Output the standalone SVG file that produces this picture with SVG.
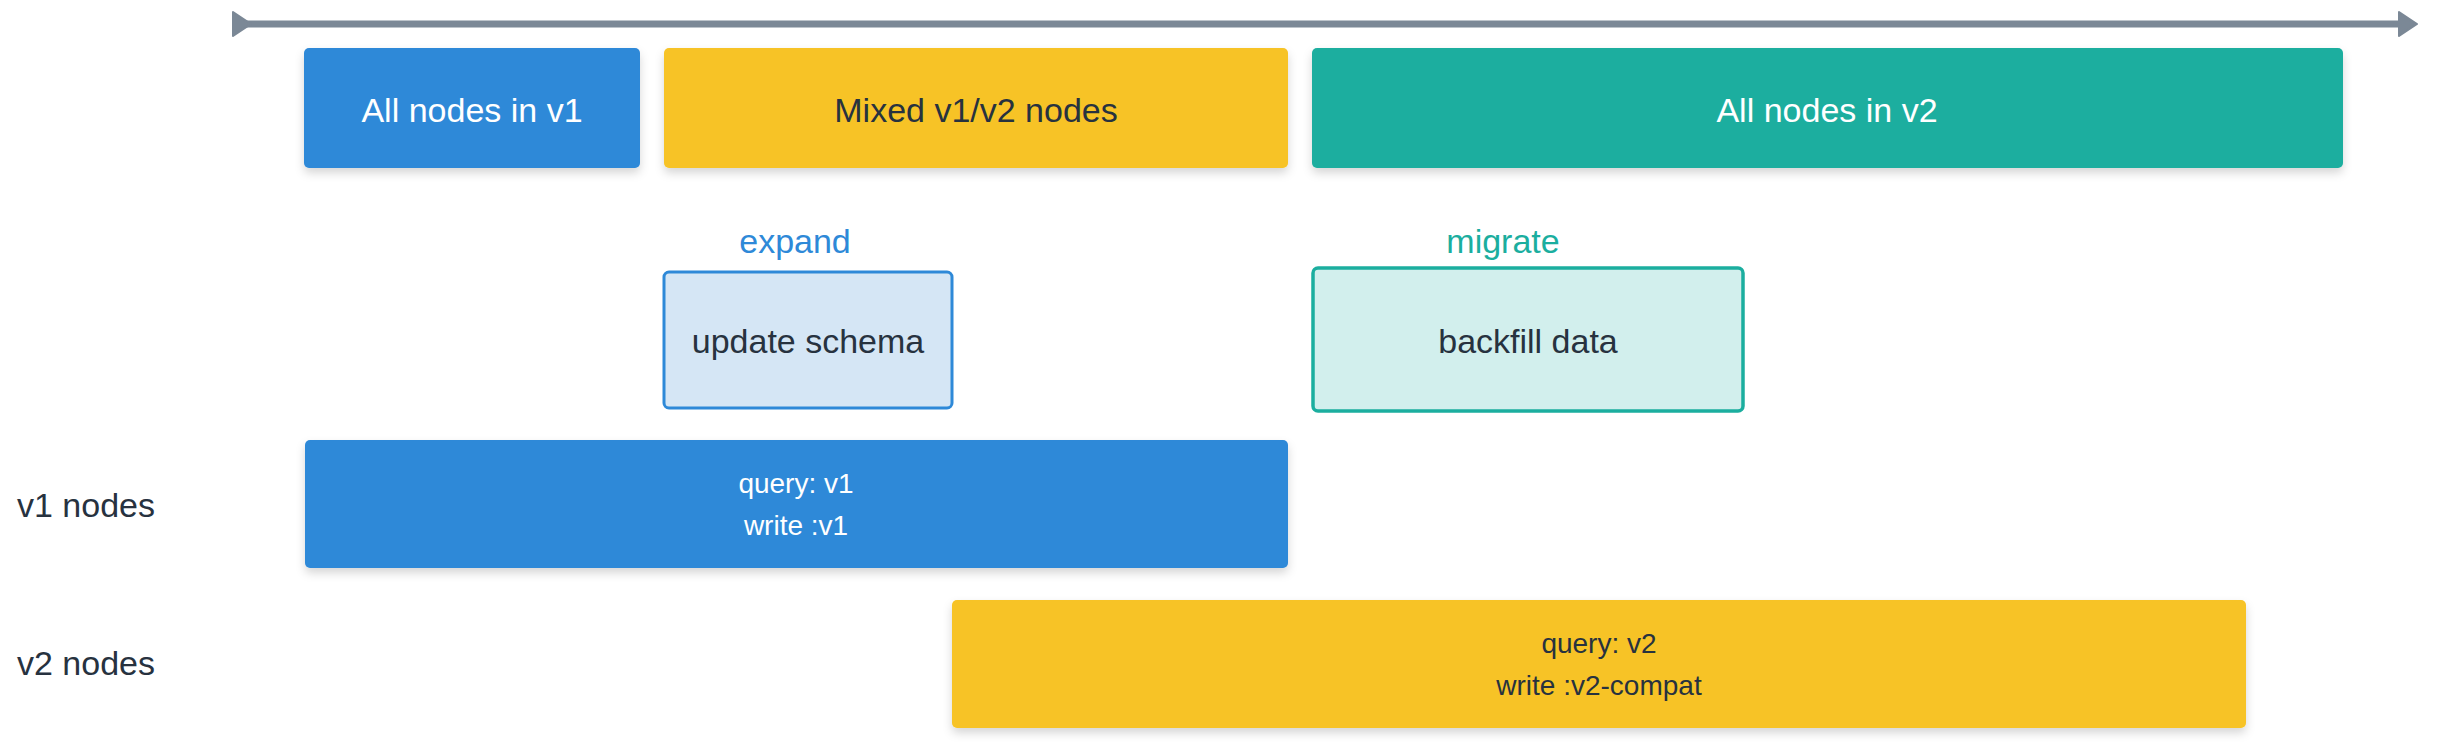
<svg xmlns="http://www.w3.org/2000/svg" width="2440" height="744" viewBox="0 0 2440 744">
<defs>
<marker id="arrowStart" markerUnits="userSpaceOnUse" viewBox="0 0 20 26" markerWidth="20" markerHeight="26" refX="0" refY="13" orient="auto">
<path d="M1,1 L19,13 L1,25 Z" fill="#7b8896" stroke="#7b8896" stroke-width="2" stroke-linejoin="round"/>
</marker>
<marker id="arrowEnd" markerUnits="userSpaceOnUse" viewBox="0 0 20 26" markerWidth="20" markerHeight="26" refX="2" refY="13" orient="auto">
<path d="M1,1 L19,13 L1,25 Z" fill="#7b8896" stroke="#7b8896" stroke-width="2" stroke-linejoin="round"/>
</marker>
<filter id="shadow" x="-5%" y="-20%" width="110%" height="150%">
<feDropShadow dx="0" dy="5" stdDeviation="5" flood-color="#000000" flood-opacity="0.16"/>
</filter>
</defs>
<style>
text { font-family: "Liberation Sans", Arial, sans-serif; }
.t { font-size: 34px; text-anchor: middle; }
.s { font-size: 28px; text-anchor: middle; }
.w { fill: #ffffff; }
.d { fill: #27323f; }
.blue { fill: #2e89d8; }
.yellow { fill: #f7c325; }
.teal { fill: #1bae9f; }
.lbl { font-size: 34px; fill: #27323f; }
</style>
<rect width="2440" height="744" fill="#ffffff"/>
<g id="connectors">
<line x1="232" y1="24" x2="2400" y2="24" stroke="#7b8896" stroke-width="7" marker-start="url(#arrowStart)" marker-end="url(#arrowEnd)"/>
</g>
<g id="phase-v1">
<rect x="304" y="48" width="336" height="120" rx="5" class="blue" filter="url(#shadow)"/>
<text x="472" y="122" class="t w">All nodes in v1</text>
</g>
<g id="phase-mixed">
<rect x="664" y="48" width="624" height="120" rx="5" class="yellow" filter="url(#shadow)"/>
<text x="976" y="122" class="t d">Mixed v1/v2 nodes</text>
</g>
<g id="phase-v2">
<rect x="1312" y="48" width="1031" height="120" rx="5" class="teal" filter="url(#shadow)"/>
<text x="1827" y="122" class="t w">All nodes in v2</text>
</g>
<g id="expand">
<text x="795" y="253" class="t" fill="#2e89d8">expand</text>
<rect x="664" y="272" width="288" height="136" rx="5" fill="#d5e6f5" stroke="#2e89d8" stroke-width="3"/>
<text x="808" y="353" class="t d">update schema</text>
</g>
<g id="migrate">
<text x="1503" y="253" class="t" fill="#1bae9f">migrate</text>
<rect x="1313" y="268" width="430" height="143" rx="5" fill="#d2efed" stroke="#1bae9f" stroke-width="3.5"/>
<text x="1528" y="353" class="t d">backfill data</text>
</g>
<g id="v1-nodes">
<text x="17" y="517" class="lbl">v1 nodes</text>
<rect x="305" y="440" width="983" height="128" rx="5" class="blue" filter="url(#shadow)"/>
<text x="796" y="493" class="s w">query: v1</text>
<text x="796" y="535" class="s w">write :v1</text>
</g>
<g id="v2-nodes">
<text x="17" y="675" class="lbl">v2 nodes</text>
<rect x="952" y="600" width="1294" height="128" rx="5" class="yellow" filter="url(#shadow)"/>
<text x="1599" y="653" class="s d">query: v2</text>
<text x="1599" y="695" class="s d">write :v2-compat</text>
</g>
</svg>
